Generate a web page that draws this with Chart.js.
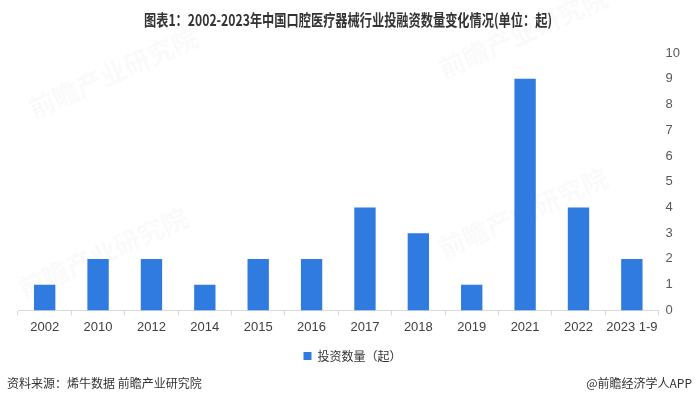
<!DOCTYPE html>
<html>
<head>
<meta charset="utf-8">
<script src="https://cdn.jsdelivr.net/npm/chart.js@4/dist/chart.umd.min.js"></script>
<style>
  html, body { margin: 0; padding: 0; background: #fff; }
  #wrap { width: 696px; height: 406px; position: relative; }
</style>
</head>
<body>
<div id="wrap"><canvas id="mainChart"></canvas></div>
<script>
// --- DATA ---
const categories = ['2002', '2010', '2012', '2014', '2015', '2016', '2017', '2018', '2019', '2021', '2022', '2023 1-9'];
const investCounts = [1, 2, 2, 1, 2, 2, 4, 3, 1, 9, 4, 2];
const seriesName = '投资数量（起）';
const yTicks = [0, 1, 2, 3, 4, 5, 6, 7, 8, 9, 10];

const titleText = '图表1：2002-2023年中国口腔医疗器械行业投融资数量变化情况(单位：起)';
const sourceText = '资料来源：烯牛数据 前瞻产业研究院';
const creditText = '@前瞻经济学人APP';

const CJK = '"Noto Sans CJK SC", "Noto Sans", sans-serif';
const NUM = '"Liberation Sans", "DejaVu Sans", sans-serif';

// --- TEXT PLUGIN: title, source, faint watermarks ---
const textPlugin = {
    id: 'textPlugin',
    beforeDraw(chart) {
        const c = chart.ctx;
        c.save();
        // watermarks
        c.fillStyle = 'rgba(120,120,120,0.04)';
        c.font = 'bold 26px ' + CJK;
        [[30, 110], [440, 70], [20, 290], [440, 250]].forEach(([x, y]) => {
            c.save();
            c.translate(x, y);
            c.rotate(-0.42);
            c.fillText('前瞻产业研究院', 0, 0);
            c.restore();
        });
        c.restore();
    },
    afterDraw(chart) {
        const c = chart.ctx;
        c.save();
        // title (condensed)
        c.fillStyle = '#333333';
        c.font = 'bold 16px ' + CJK;
        c.textBaseline = 'middle';
        const w = c.measureText(titleText).width;
        c.translate(348, 20);
        c.scale(408 / w, 1);
        c.textAlign = 'center';
        c.fillText(titleText, 0, 0);
        c.restore();

        c.save();
        c.fillStyle = '#333333';
        c.font = '12px ' + CJK;
        c.textBaseline = 'middle';
        c.textAlign = 'left';
        c.fillText(sourceText, 7, 383);
        c.textAlign = 'right';
        c.fillText(creditText, 692, 383);
        c.restore();
    }
};

function initChart() {
    const ctx = document.getElementById('mainChart');
    new Chart(ctx, {
        type: 'bar',
        data: {
            labels: categories,
            datasets: [{
                label: seriesName,
                data: investCounts,
                backgroundColor: '#2f7be0',
                borderWidth: 0,
                barPercentage: 0.4,
                categoryPercentage: 1
            }]
        },
        options: {
            responsive: true,
            maintainAspectRatio: false,
            animation: false,
            layout: { padding: { top: 53, left: 18, right: 9, bottom: 34 } },
            plugins: {
                title: { display: false },
                tooltip: { enabled: false },
                legend: {
                    position: 'bottom',
                    labels: {
                        boxWidth: 8,
                        boxHeight: 8,
                        padding: 11,
                        color: '#333333',
                        font: { size: 12, family: CJK }
                    }
                }
            },
            scales: {
                x: {
                    offset: true,
                    grid: {
                        display: true,
                        drawOnChartArea: false,
                        drawTicks: true,
                        tickLength: 5,
                        color: '#d9d9d9',
                        offset: true
                    },
                    border: { color: '#d9d9d9' },
                    ticks: {
                        color: '#404040',
                        padding: 4,
                        maxRotation: 0,
                        autoSkip: false,
                        font: { size: 13, family: NUM }
                    }
                },
                y: {
                    position: 'right',
                    min: 0,
                    max: 10,
                    grid: { display: false, drawTicks: false },
                    border: { display: false },
                    afterBuildTicks(axis) {
                        axis.ticks = yTicks.map(v => ({ value: v }));
                    },
                    ticks: {
                        color: '#595959',
                        padding: 7,
                        font: { size: 13, family: NUM }
                    }
                }
            }
        },
        plugins: [textPlugin]
    });
}

document.addEventListener('DOMContentLoaded', () => {
    initChart();
});
</script>
</body>
</html>
